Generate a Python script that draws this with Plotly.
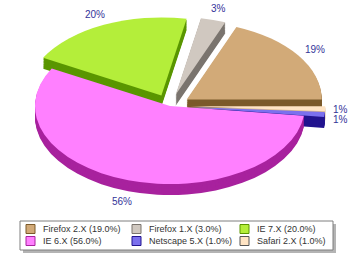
import math
import plotly.graph_objects as go

# ---- data ----
browsers = ["Firefox 2.X", "Firefox 1.X", "IE 7.X", "IE 6.X", "Netscape 5.X", "Safari 2.X"]
shares = [19.0, 3.0, 20.0, 56.0, 1.0, 1.0]

# ---- style ----
top_colors = ["#D2AA78", "#D0C8C0", "#B4EE3A", "#FF80FF", "#7B70EE", "#FFE4C4"]
wall_colors = ["#7B5A2A", "#7A746E", "#5A9600", "#A8229E", "#22148F", "#D8B890"]
pulls = [0.15, 0.15, 0.15, 0.0, 0.15, 0.15]

W, H = 350, 257
total = sum(shares)
legend_names = [f"{b} ({v:.1f}%)" for b, v in zip(browsers, shares)]

# pie domain (square in pixels, before the 3D squash transform)
dom_cx, dom_cy, dom_half = 175.0, 116.0, 112.0
dom_x = [(dom_cx - dom_half) / W, (dom_cx + dom_half) / W]
dom_y0 = [1 - (dom_cy + dom_half) / H, 1 - (dom_cy - dom_half) / H]

# final ellipse geometry
fin_cx, fin_cy = 170.0, 106.0
r_eff = dom_half / (1 + max(pulls))
rx, ry = 135.0, 78.0
sx, sy = rx / r_eff, ry / r_eff
thick = 11.0  # final px thickness

# first slice starts at 3 o'clock and slices run counter-clockwise
rot = 90 - shares[0] / total * 360

fig = go.Figure()

common = dict(
    labels=legend_names, values=shares, sort=False, direction="counterclockwise",
    rotation=rot, pull=pulls, textinfo="none", hoverinfo="none", showlegend=False,
)

n_layers = 10
for k in range(n_layers, 0, -1):
    off = thick / sy * k / n_layers  # unscaled px
    fig.add_trace(go.Pie(
        **common,
        marker=dict(colors=wall_colors, line=dict(width=0)),
        domain=dict(x=dom_x, y=[dom_y0[0] - off / H, dom_y0[1] - off / H]),
    ))

fig.add_trace(go.Pie(
    **common,
    marker=dict(colors=top_colors, line=dict(width=0)),
    domain=dict(x=dom_x, y=dom_y0),
))

# percentage labels placed around the ellipse from the cumulative shares
pos = []
cum = 0.0
for v, p in zip(shares, pulls):
    mid = (cum + v / 2) / total * 2 * math.pi
    cum += v
    f = 1.15 + p
    lx = fin_cx + f * rx * math.cos(mid)
    ly = fin_cy - f * ry * math.sin(mid)
    if math.sin(mid) < 0:
        ly += thick * (-math.sin(mid))
    lx = min(max(lx, 12), W - 10)
    pos.append([lx, ly])
# keep neighbouring labels apart vertically
for i in range(len(pos)):
    for j in range(i):
        if abs(pos[i][0] - pos[j][0]) < 20 and abs(pos[i][1] - pos[j][1]) < 10:
            if pos[i][1] >= pos[j][1]:
                pos[i][1] = pos[j][1] + 10
            else:
                pos[j][1] = pos[i][1] + 10

annotations = []
for (lx, ly), v in zip(pos, shares):
    annotations.append(dict(
        x=lx / W, y=1 - ly / H, xref="paper", yref="paper",
        xanchor="center", yanchor="middle",
        text=f"{v:.0f}%", showarrow=False,
        font=dict(family="Liberation Sans, Arial", size=10, color="#333399"),
    ))

# ---- legend box (3 columns x 2 rows) ----
box_l, box_r, box_t, box_b = 20, 333, 221, 250
col_x = [26, 132, 240]
row_y = [229, 241]
sw = 9
shapes = [
    dict(type="rect", xref="paper", yref="paper",
         x0=(box_l + 3) / W, x1=(box_r + 3) / W, y0=1 - (box_b + 3) / H, y1=1 - (box_t + 3) / H,
         fillcolor="#B4B4B4", line=dict(width=0), layer="below"),
    dict(type="rect", xref="paper", yref="paper",
         x0=box_l / W, x1=box_r / W, y0=1 - box_b / H, y1=1 - box_t / H,
         fillcolor="white", line=dict(color="#7F7F7F", width=1), layer="below"),
]
for i, name in enumerate(legend_names):
    cx = col_x[i % 3]
    cy = row_y[i // 3]
    shapes.append(dict(
        type="rect", xref="paper", yref="paper",
        x0=cx / W, x1=(cx + sw) / W, y0=1 - (cy + sw / 2) / H, y1=1 - (cy - sw / 2) / H,
        fillcolor=top_colors[i], line=dict(color=wall_colors[i] if i != 5 else "#555555", width=1),
    ))
    annotations.append(dict(
        x=(cx + sw + 6) / W, y=1 - cy / H, xref="paper", yref="paper",
        xanchor="left", yanchor="middle", text=name, showarrow=False,
        font=dict(family="Liberation Sans, Arial", size=9, color="#333333"),
    ))

fig.update_layout(
    width=W, height=H, margin=dict(l=0, r=0, t=0, b=0),
    paper_bgcolor="white", plot_bgcolor="white",
    annotations=annotations, shapes=shapes, showlegend=False,
)

post = (
    "var gd=document.getElementById('{plot_id}');"
    "function sq(){var L=gd.querySelector('.pielayer');if(L){L.setAttribute('transform',"
    f"'translate({fin_cx},{fin_cy}) scale({sx:.4f},{sy:.4f}) translate({-dom_cx},{-dom_cy})');"
    "}}sq();gd.on('plotly_afterplot',sq);"
)

fig.write_html("out.html", config={"staticPlot": True}, post_script=post)
